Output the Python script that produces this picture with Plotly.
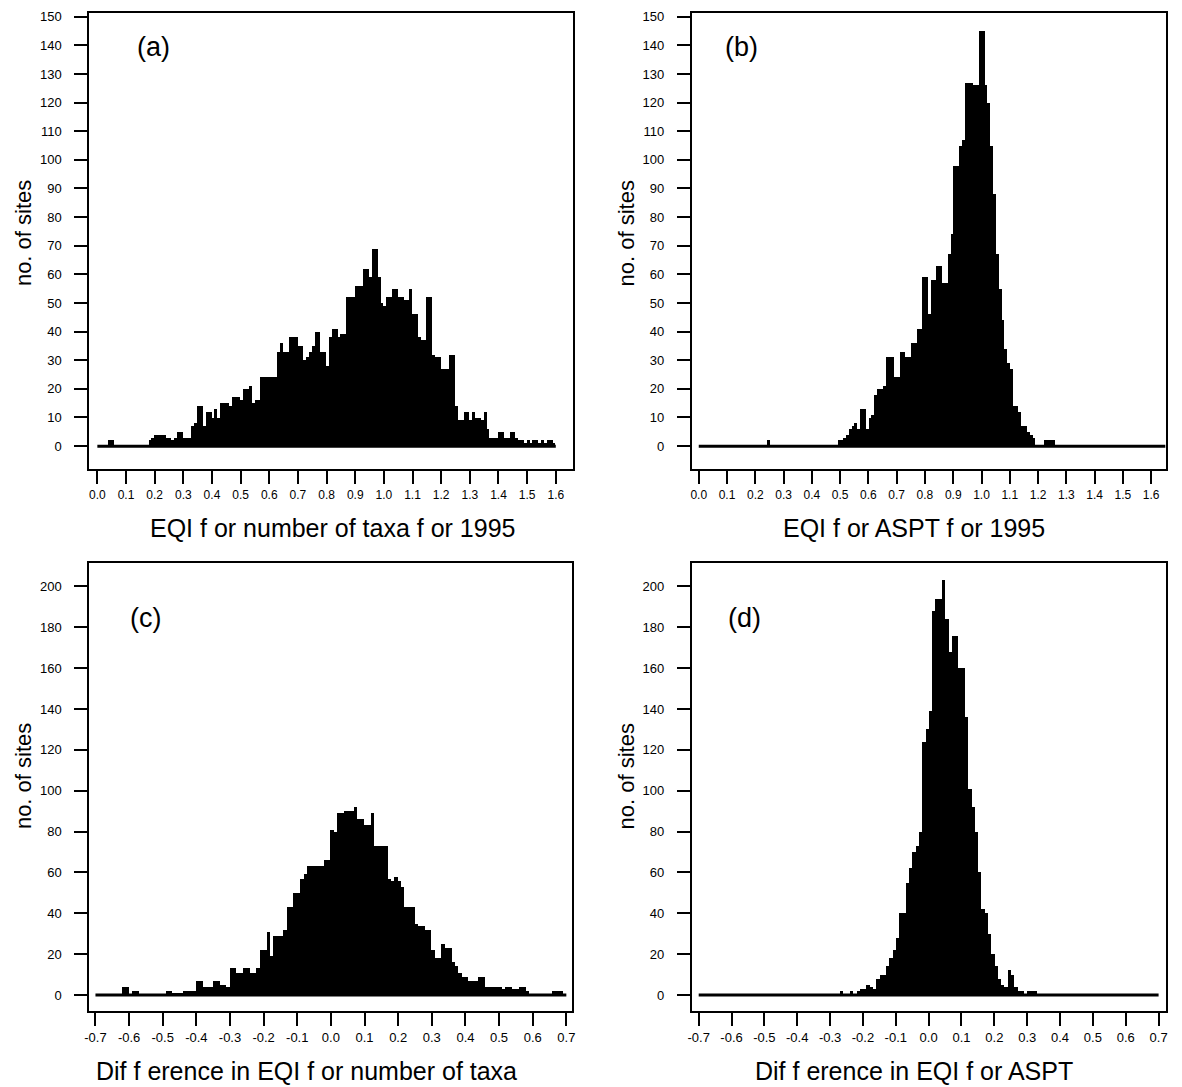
import plotly.graph_objects as go

W, H = 1182, 1087
OFF = 8  # page body margin shifts the figure; pixel positions below are page pixels
BIN_W = 0.01

# (a) EQI for number of taxa, 1995 - bins of 0.01 starting at 0.0
a_start = 0.0
a_counts = (
    [0, 0, 0, 0, 2, 2] + [0] * 12
    + [2, 3, 4, 4, 4, 4, 3, 3, 2, 3, 5, 5, 3, 3, 3]
    + [7, 8, 14, 14, 7, 12, 12, 10, 13, 10, 15, 15, 15, 14, 17, 17, 17]
    + [16, 20, 20, 21, 15, 16, 16, 24, 24, 24, 24, 24, 24]
    + [33, 36, 33, 33, 38, 38, 38, 35, 35, 30, 31, 33, 35, 40, 40, 33, 33]
    + [28, 38, 41, 41, 38, 39, 39, 52, 52, 52, 56, 56, 56, 62, 62, 59, 69, 69, 59, 50]
    + [49, 52, 52, 55, 55, 52, 52, 51, 51, 55, 46, 46, 38, 37, 37, 52, 52, 32, 31, 31]
    + [27, 27, 27, 32, 32, 14, 9, 9, 12, 12, 9, 12, 10, 10, 9, 12, 6, 3, 3, 3]
    + [5, 5, 3, 3, 5, 5, 3, 2, 2, 1, 2, 1, 2, 2, 1, 2, 1, 2, 2, 1]
)

# (b) EQI for ASPT, 1995
b_start = 0.0
b_counts = (
    [0] * 24 + [2] + [0] * 24
    + [2, 2, 3]
    + [4, 6, 7, 8, 6, 13, 13, 6]
    + [10, 11, 18, 20, 20, 21, 31, 31, 31, 24]
    + [24, 33, 33, 31, 31, 36, 36, 41, 41, 59]
    + [59, 46, 58, 58, 63, 63, 57, 57, 67, 74]
    + [98, 98, 105, 107, 127, 127, 127, 126, 126, 145]
    + [145, 126, 120, 105, 88, 67, 55, 44, 34, 29]
    + [27, 14, 14, 12, 7, 7, 5, 4, 3, 0]
    + [0, 0, 2, 2, 2, 2]
    + [0] * 39
)

# (c) difference in EQI for number of taxa - bins from -0.70
c_start = -0.70
c_counts = (
    [0] * 8 + [4, 4, 0, 2, 2] + [0] * 8
    + [2, 2, 1, 1, 1, 2, 2, 2, 2]
    + [7, 7, 4, 4, 4, 7, 7, 5, 5, 4]
    + [13, 13, 11, 11, 13, 13, 11, 11, 13]
    + [22, 22, 31, 19, 29, 29, 29, 32, 43, 43, 50, 50, 57, 59]
    + [63, 63, 63, 63, 63, 66, 66]
    + [81, 80, 89, 89, 90, 90, 90, 92, 86, 86, 83, 83, 89]
    + [73, 73, 73, 73, 57, 56, 58, 56, 53]
    + [43, 43, 43, 35, 34, 34, 32, 32, 22, 18, 18, 25, 23, 23]
    + [16, 14, 11, 9, 9, 7, 7, 7, 9, 9]
    + [4, 4, 4, 4, 4, 3, 4, 4, 3, 3, 4, 4, 2]
    + [0] * 7 + [2, 2, 2, 0]
)

# (d) difference in EQI for ASPT - bins from -0.70
d_start = -0.70
d_counts = (
    [0] * 43 + [2, 0, 0, 2, 0]
    + [2, 3, 3, 5, 4, 3]
    + [8, 10, 10, 14, 18, 22, 28, 40, 40, 55, 62]
    + [70, 73, 80, 124, 130, 139]
    + [188, 194, 194, 203, 184, 168, 176, 176, 160, 160]
    + [136, 101, 92, 80, 60, 42, 40, 30, 20, 14]
    + [8, 5, 4, 12, 10, 4, 2, 2, 0, 2, 2, 2]
)
d_counts = d_counts + [0] * (140 - len(d_counts))

a_xticks = [round(0.1 * i, 1) for i in range(17)]
c_xticks = [round(-0.7 + 0.1 * i, 1) for i in range(15)]
a_yticks = list(range(0, 151, 10))
c_yticks = list(range(0, 201, 20))


def fx(px):
    return (px - OFF) / W


def fy(py):
    return 1 - (py - OFF) / H


panels = [
    # name, start, counts, x range, y range, x ticks, y ticks, frame in page px (x0, x1, y0, y1)
    ("a", a_start, a_counts, [-0.0277, 1.659], [-8.1, 151.3], a_xticks, a_yticks, (85, 572, 9, 467)),
    ("b", b_start, b_counts, [-0.0246, 1.653], [-8.1, 151.3], a_xticks, a_yticks, (692, 1170, 9, 467)),
    ("c", c_start, c_counts, [-0.718, 0.716], [-8.0, 211.5], c_xticks, c_yticks, (85, 571, 561, 1011)),
    ("d", d_start, d_counts, [-0.721, 0.723], [-8.0, 211.5], c_xticks, c_yticks, (692, 1170, 561, 1011)),
]

FONT = "Liberation Sans, Arial, sans-serif"
fig = go.Figure()
layout = {}

for i, (name, start, counts, xr, yr, xt, yt, box) in enumerate(panels):
    sfx = "" if i == 0 else str(i + 1)
    xa, ya = "x" + sfx, "y" + sfx
    n = len(counts)
    centers = [start + BIN_W * (j + 0.5) for j in range(n)]
    fig.add_trace(go.Bar(
        x=centers, y=counts, width=BIN_W, xaxis=xa, yaxis=ya,
        marker=dict(color="black", line=dict(width=0)), showlegend=False,
    ))
    # baseline drawn along the histogram's range
    fig.add_trace(go.Scatter(
        x=[start, start + BIN_W * n], y=[0, 0], mode="lines", xaxis=xa, yaxis=ya,
        line=dict(color="black", width=3), showlegend=False,
    ))
    x0, x1, y0, y1 = box
    tick_font = dict(family=FONT, size=12 if name in "ab" else 13, color="black")
    layout["xaxis" + sfx] = dict(
        domain=[fx(x0), fx(x1)], range=xr, anchor=ya, mirror=True,
        showline=True, linecolor="black", linewidth=2, showgrid=False, zeroline=False,
        ticks="outside", ticklen=13, tickwidth=2, tickcolor="black",
        tickvals=xt, ticktext=[f"{v:.1f}" for v in xt], tickfont=tick_font,
        ticklabelstandoff=0, ticklabeloverflow="allow",
    )
    layout["yaxis" + sfx] = dict(
        domain=[fy(y1), fy(y0)], range=yr, anchor=xa, mirror=True,
        showline=True, linecolor="black", linewidth=2, showgrid=False, zeroline=False,
        ticks="outside", ticklen=13, tickwidth=2, tickcolor="black",
        tickvals=yt, tickfont=dict(family=FONT, size=13, color="black"),
        ticklabelstandoff=10, ticklabeloverflow="allow",
    )

annotations = []


def label(text, px, py, size, angle=0):
    annotations.append(dict(
        text=text, x=fx(px), y=fy(py), xref="paper", yref="paper",
        xanchor="center", yanchor="middle", showarrow=False, textangle=angle,
        font=dict(family=FONT, size=size, color="black"),
    ))


for text, px, py in [
    ("EQI f or number of taxa f or 1995", 330, 526),
    ("EQI f or ASPT f or 1995", 916, 526),
    ("Dif f erence in EQI f or number of taxa", 304, 1071),
    ("Dif f erence in EQI f or ASPT", 916, 1071),
]:
    label(text, px, py, 25)
for px, py in [(18, 230), (626, 230), (18, 775), (626, 775)]:
    label("no. of sites", px, py, 22, angle=-90)
for text, px, py in [("(a)", 150, 43), ("(b)", 742, 43), ("(c)", 142, 616), ("(d)", 745, 616)]:
    label(text, px, py, 27)

fig.update_layout(
    width=W, height=H, margin=dict(l=0, r=0, t=0, b=0),
    paper_bgcolor="white", plot_bgcolor="white",
    bargap=0, annotations=annotations, **layout,
)

fig.write_html("out.html")
